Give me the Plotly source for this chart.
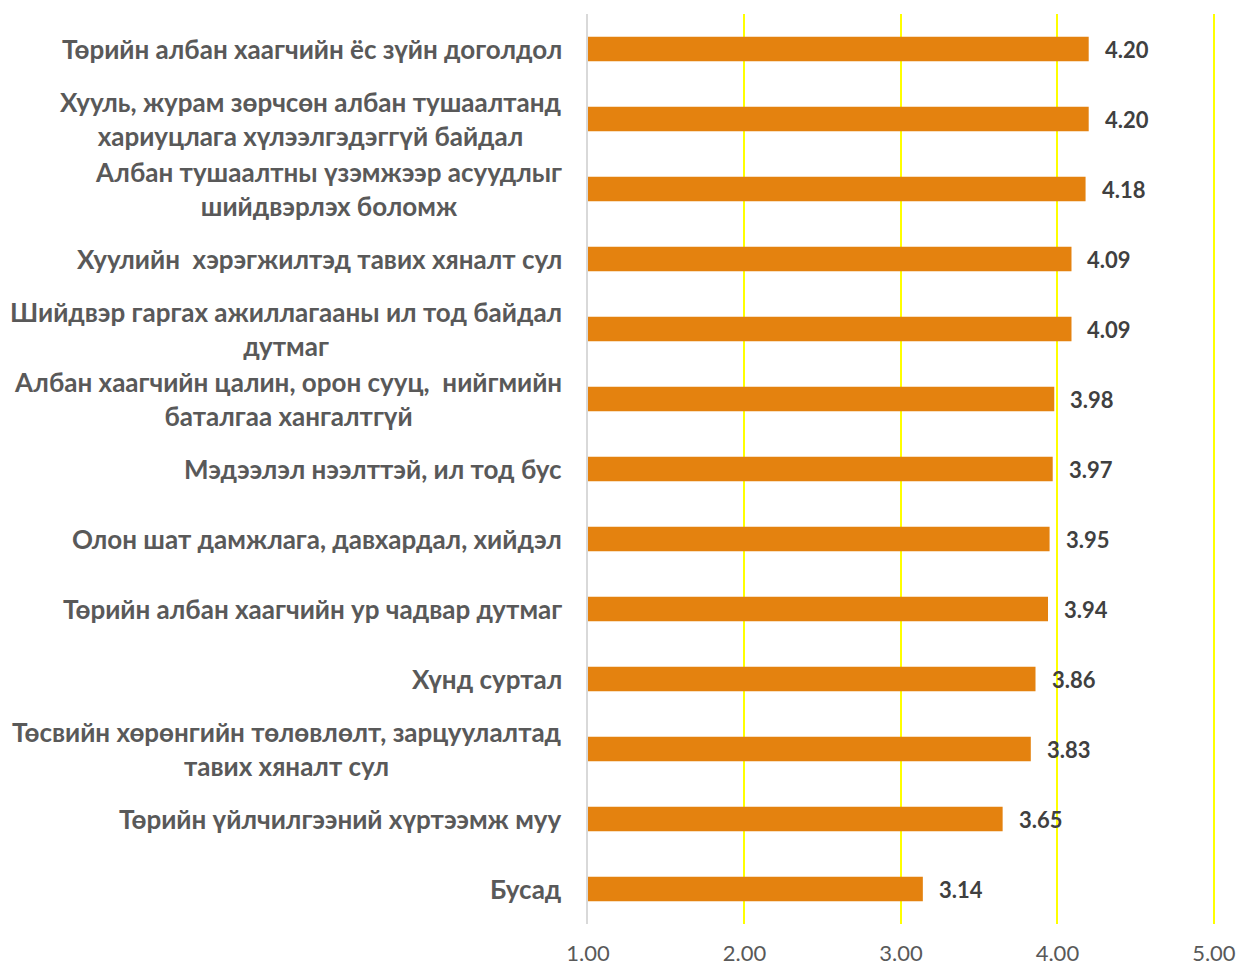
import plotly.graph_objects as go

# Survey categories (top to bottom) and their mean scores
categories = [
    "Төрийн албан хаагчийн ёс зүйн доголдол",
    "Хууль, журам зөрчсөн албан тушаалтанд\nхариуцлага хүлээлгэдэггүй байдал",
    "Албан тушаалтны үзэмжээр асуудлыг\nшийдвэрлэх боломж",
    "Хуулийн  хэрэгжилтэд тавих хяналт сул",
    "Шийдвэр гаргах ажиллагааны ил тод байдал\nдутмаг",
    "Албан хаагчийн цалин, орон сууц,  нийгмийн\nбаталгаа хангалтгүй",
    "Мэдээлэл нээлттэй, ил тод бус",
    "Олон шат дамжлага, давхардал, хийдэл",
    "Төрийн албан хаагчийн ур чадвар дутмаг",
    "Хүнд суртал",
    "Төсвийн хөрөнгийн төлөвлөлт, зарцуулалтад\nтавих хяналт сул",
    "Төрийн үйлчилгээний хүртээмж муу",
    "Бусад",
]
scores = [4.20, 4.20, 4.18, 4.09, 4.09, 3.98, 3.97, 3.95, 3.94, 3.86, 3.83, 3.65, 3.14]
x_ticks = [1.00, 2.00, 3.00, 4.00, 5.00]
x_tick_labels = ["1.00", "2.00", "3.00", "4.00", "5.00"]

LABEL_FONT = "Lato"
BAR_COLOR = "#E4820F"
AXIS_MIN = 1.0
AXIS_MAX = 5.02   # a little headroom so the 5.00 gridline is drawn

fig = go.Figure(
    go.Bar(
        x=[s - AXIS_MIN for s in scores],   # bar length measured from the axis start
        base=AXIS_MIN,
        y=list(range(len(categories))),
        orientation="h",
        width=0.35,
        marker=dict(color=BAR_COLOR, line=dict(width=0)),
        hoverinfo="skip",
    )
)

annotations = []
for i, (label, score) in enumerate(zip(categories, scores)):
    # category label: centred lines, block right-aligned to the plot edge
    annotations.append(dict(
        x=0, xref="paper", xanchor="right", xshift=-24,
        y=i, yref="y", yanchor="middle",
        text=label.replace("\n", "<br>"), showarrow=False, align="center",
        font=dict(family=LABEL_FONT, size=26, color="#595959", weight="bold"),
    ))
    # value label just past the bar end
    annotations.append(dict(
        x=score, xref="x", xanchor="left", xshift=14,
        y=i, yref="y", yanchor="middle",
        text=f"{score:.2f}", showarrow=False,
        font=dict(family=LABEL_FONT, size=22, color="#404040", weight="bold"),
    ))

fig.update_layout(
    width=1238, height=965,
    margin=dict(l=588, r=21, t=14, b=41),
    paper_bgcolor="white", plot_bgcolor="white",
    showlegend=False,
    annotations=annotations,
    xaxis=dict(
        range=[AXIS_MIN, AXIS_MAX], tickvals=x_ticks, ticktext=x_tick_labels,
        showgrid=True, gridcolor="#FFFF00", gridwidth=2,
        zeroline=False, showline=False, ticks="",
        ticklabelstandoff=14, automargin=False,
        tickfont=dict(family=LABEL_FONT, size=22, color="#595959"),
    ),
    yaxis=dict(
        range=[len(categories) - 0.5, -0.5],
        showticklabels=False, showgrid=False, zeroline=False,
        showline=True, linecolor="#D9D9D9", linewidth=2, ticks="",
        automargin=False,
    ),
)

fig.write_html("out.html")
